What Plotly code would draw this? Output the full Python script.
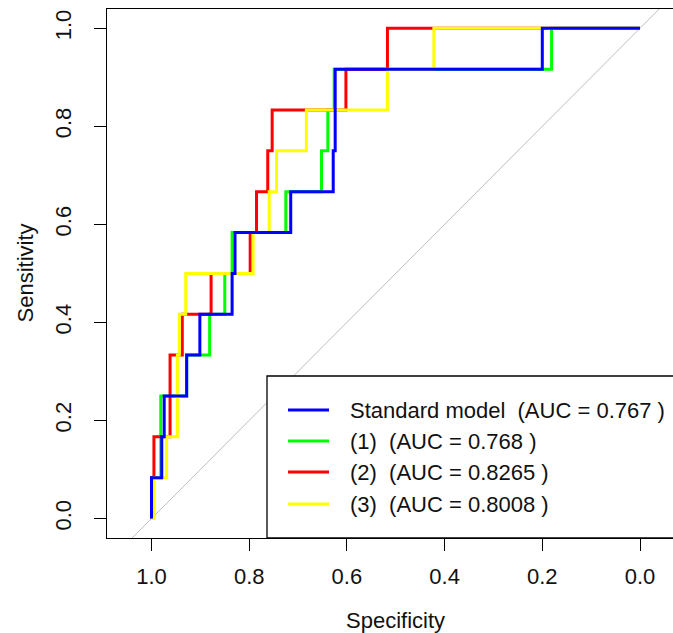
import plotly.graph_objects as go

# ---------------- data ----------------
series_names = ["Standard model", "(1)", "(2)", "(3)"]
series_auc = ["0.767", "0.768", "0.8265", "0.8008"]
series_colors = ["#0000FF", "#00FF00", "#FF0000", "#FFFF00"]

blue_spec = [1.0, 1.0, 0.979, 0.979, 0.974, 0.974, 0.928, 0.928, 0.901, 0.901, 0.835, 0.835,
             0.829, 0.829, 0.715, 0.715, 0.628, 0.628, 0.624, 0.624, 0.200, 0.200, 0.0]
blue_sens = [0.0, 0.0833, 0.0833, 0.1667, 0.1667, 0.25, 0.25, 0.3333, 0.3333, 0.4167, 0.4167, 0.5,
             0.5, 0.5833, 0.5833, 0.6667, 0.6667, 0.75, 0.75, 0.9167, 0.9167, 1.0, 1.0]

green_spec = [1.0, 1.0, 0.981, 0.981, 0.928, 0.928, 0.881, 0.881, 0.850, 0.850, 0.835, 0.835,
              0.725, 0.725, 0.652, 0.652, 0.639, 0.639, 0.626, 0.626, 0.181, 0.181, 0.0]
green_sens = [0.0, 0.0833, 0.0833, 0.25, 0.25, 0.3333, 0.3333, 0.4167, 0.4167, 0.5, 0.5, 0.5833,
              0.5833, 0.6667, 0.6667, 0.75, 0.75, 0.8333, 0.8333, 0.9167, 0.9167, 1.0, 1.0]

red_spec = [1.0, 1.0, 0.995, 0.995, 0.962, 0.962, 0.937, 0.937, 0.878, 0.878, 0.798, 0.798,
            0.785, 0.785, 0.762, 0.762, 0.753, 0.753, 0.602, 0.602, 0.517, 0.517, 0.0]
red_sens = [0.0, 0.0833, 0.0833, 0.1667, 0.1667, 0.3333, 0.3333, 0.4167, 0.4167, 0.5, 0.5, 0.5833,
            0.5833, 0.6667, 0.6667, 0.75, 0.75, 0.8333, 0.8333, 0.9167, 0.9167, 1.0, 1.0]

yellow_spec = [1.0, 0.995, 0.995, 0.969, 0.969, 0.947, 0.947, 0.943, 0.943, 0.930, 0.930, 0.792,
               0.792, 0.759, 0.759, 0.744, 0.744, 0.683, 0.683, 0.517, 0.517, 0.422, 0.422, 0.0]
yellow_sens = [0.0, 0.0, 0.0833, 0.0833, 0.1667, 0.1667, 0.3333, 0.3333, 0.4167, 0.4167, 0.5, 0.5,
               0.5833, 0.5833, 0.6667, 0.6667, 0.75, 0.75, 0.8333, 0.8333, 0.9167, 0.9167, 1.0, 1.0]

tick_vals = [1.0, 0.8, 0.6, 0.4, 0.2, 0.0]
tick_text = ["1.0", "0.8", "0.6", "0.4", "0.2", "0.0"]
y_tick_vals = [0.0, 0.2, 0.4, 0.6, 0.8, 1.0]
y_tick_text = ["0.0", "0.2", "0.4", "0.6", "0.8", "1.0"]

diag_spec = [1.3, -0.3]
diag_sens = [1 - s for s in diag_spec]

# ---------------- layout geometry ----------------
W, H = 673, 633
ML, MR, MT, MB = 107, 0, 9, 95
PW, PH = W - ML - MR, H - MT - MB
FONT = "Liberation Sans, Arial, sans-serif"
TXT = "#111111"


def px_x(X):
    return (X - ML) / PW


def px_y(Y):
    return (H - MB - Y) / PH


fig = go.Figure()

fig.add_trace(go.Scatter(x=diag_spec, y=diag_sens, mode="lines",
                         line=dict(color="#BEBEBE", width=1), hoverinfo="skip", showlegend=False))

curves = [
    (green_spec, green_sens, 1),
    (red_spec, red_sens, 2),
    (yellow_spec, yellow_sens, 3),
    (blue_spec, blue_sens, 0),
]
for sx, sy, idx in curves:
    fig.add_trace(go.Scatter(x=sx, y=sy, mode="lines", name=series_names[idx],
                             line=dict(color=series_colors[idx], width=3),
                             showlegend=False))

shapes = []
annotations = []

# legend box (bottom-right, extends past the cropped right edge)
shapes.append(dict(type="rect", xref="paper", yref="paper",
                   x0=px_x(267), x1=1.05, y0=px_y(538), y1=px_y(376),
                   line=dict(color="#000000", width=1.3), fillcolor="white", layer="above"))
row_y = [410, 441, 472, 504]
for i, name in enumerate(series_names):
    shapes.append(dict(type="line", xref="paper", yref="paper",
                       x0=px_x(288), x1=px_x(329), y0=px_y(row_y[i]), y1=px_y(row_y[i]),
                       line=dict(color=series_colors[i], width=3), layer="above"))
    annotations.append(dict(xref="paper", yref="paper", x=px_x(348), y=px_y(row_y[i]),
                            xanchor="left", yanchor="middle", showarrow=False,
                            text=f"{name}\u00a0 (AUC = {series_auc[i]} )",
                            font=dict(family=FONT, size=22, color=TXT)))

# axis titles
annotations.append(dict(xref="paper", yref="paper", x=px_x(395.5), y=px_y(620),
                        xanchor="center", yanchor="middle", showarrow=False,
                        text="Specificity", font=dict(family=FONT, size=22, color=TXT)))
annotations.append(dict(xref="paper", yref="paper", x=px_x(25), y=px_y(273.5),
                        xanchor="center", yanchor="middle", showarrow=False, textangle=-90,
                        text="Sensitivity", font=dict(family=FONT, size=22, color=TXT)))

fig.update_layout(
    width=W, height=H,
    margin=dict(l=ML, r=MR, t=MT, b=MB, pad=0),
    paper_bgcolor="white", plot_bgcolor="white",
    font=dict(family=FONT, size=22, color=TXT),
    shapes=shapes, annotations=annotations,
    showlegend=False,
)

fig.update_xaxes(
    range=[1 + (151.5 - ML) / 488.5, 1 - (W - MR - 151.5) / 488.5],
    tickvals=tick_vals, ticktext=tick_text,
    ticks="outside", ticklen=12, tickwidth=1.3, tickcolor="#000000",
    showline=True, linecolor="#000000", linewidth=1.3, mirror=True,
    showgrid=False, zeroline=False,
    ticklabelstandoff=6,
    tickfont=dict(family=FONT, size=22, color=TXT),
)
fig.update_yaxes(
    range=[-(538 - 518.5) / 490.2, (518.5 - MT) / 490.2],
    tickvals=y_tick_vals, ticktext=y_tick_text,
    ticks="outside", ticklen=12, tickwidth=1.3, tickcolor="#000000",
    showline=True, linecolor="#000000", linewidth=1.3, mirror=False,
    showgrid=False, zeroline=False, tickangle=-90,
    ticklabelstandoff=14,
    tickfont=dict(family=FONT, size=22, color=TXT),
)

fig.write_html("out.html")
